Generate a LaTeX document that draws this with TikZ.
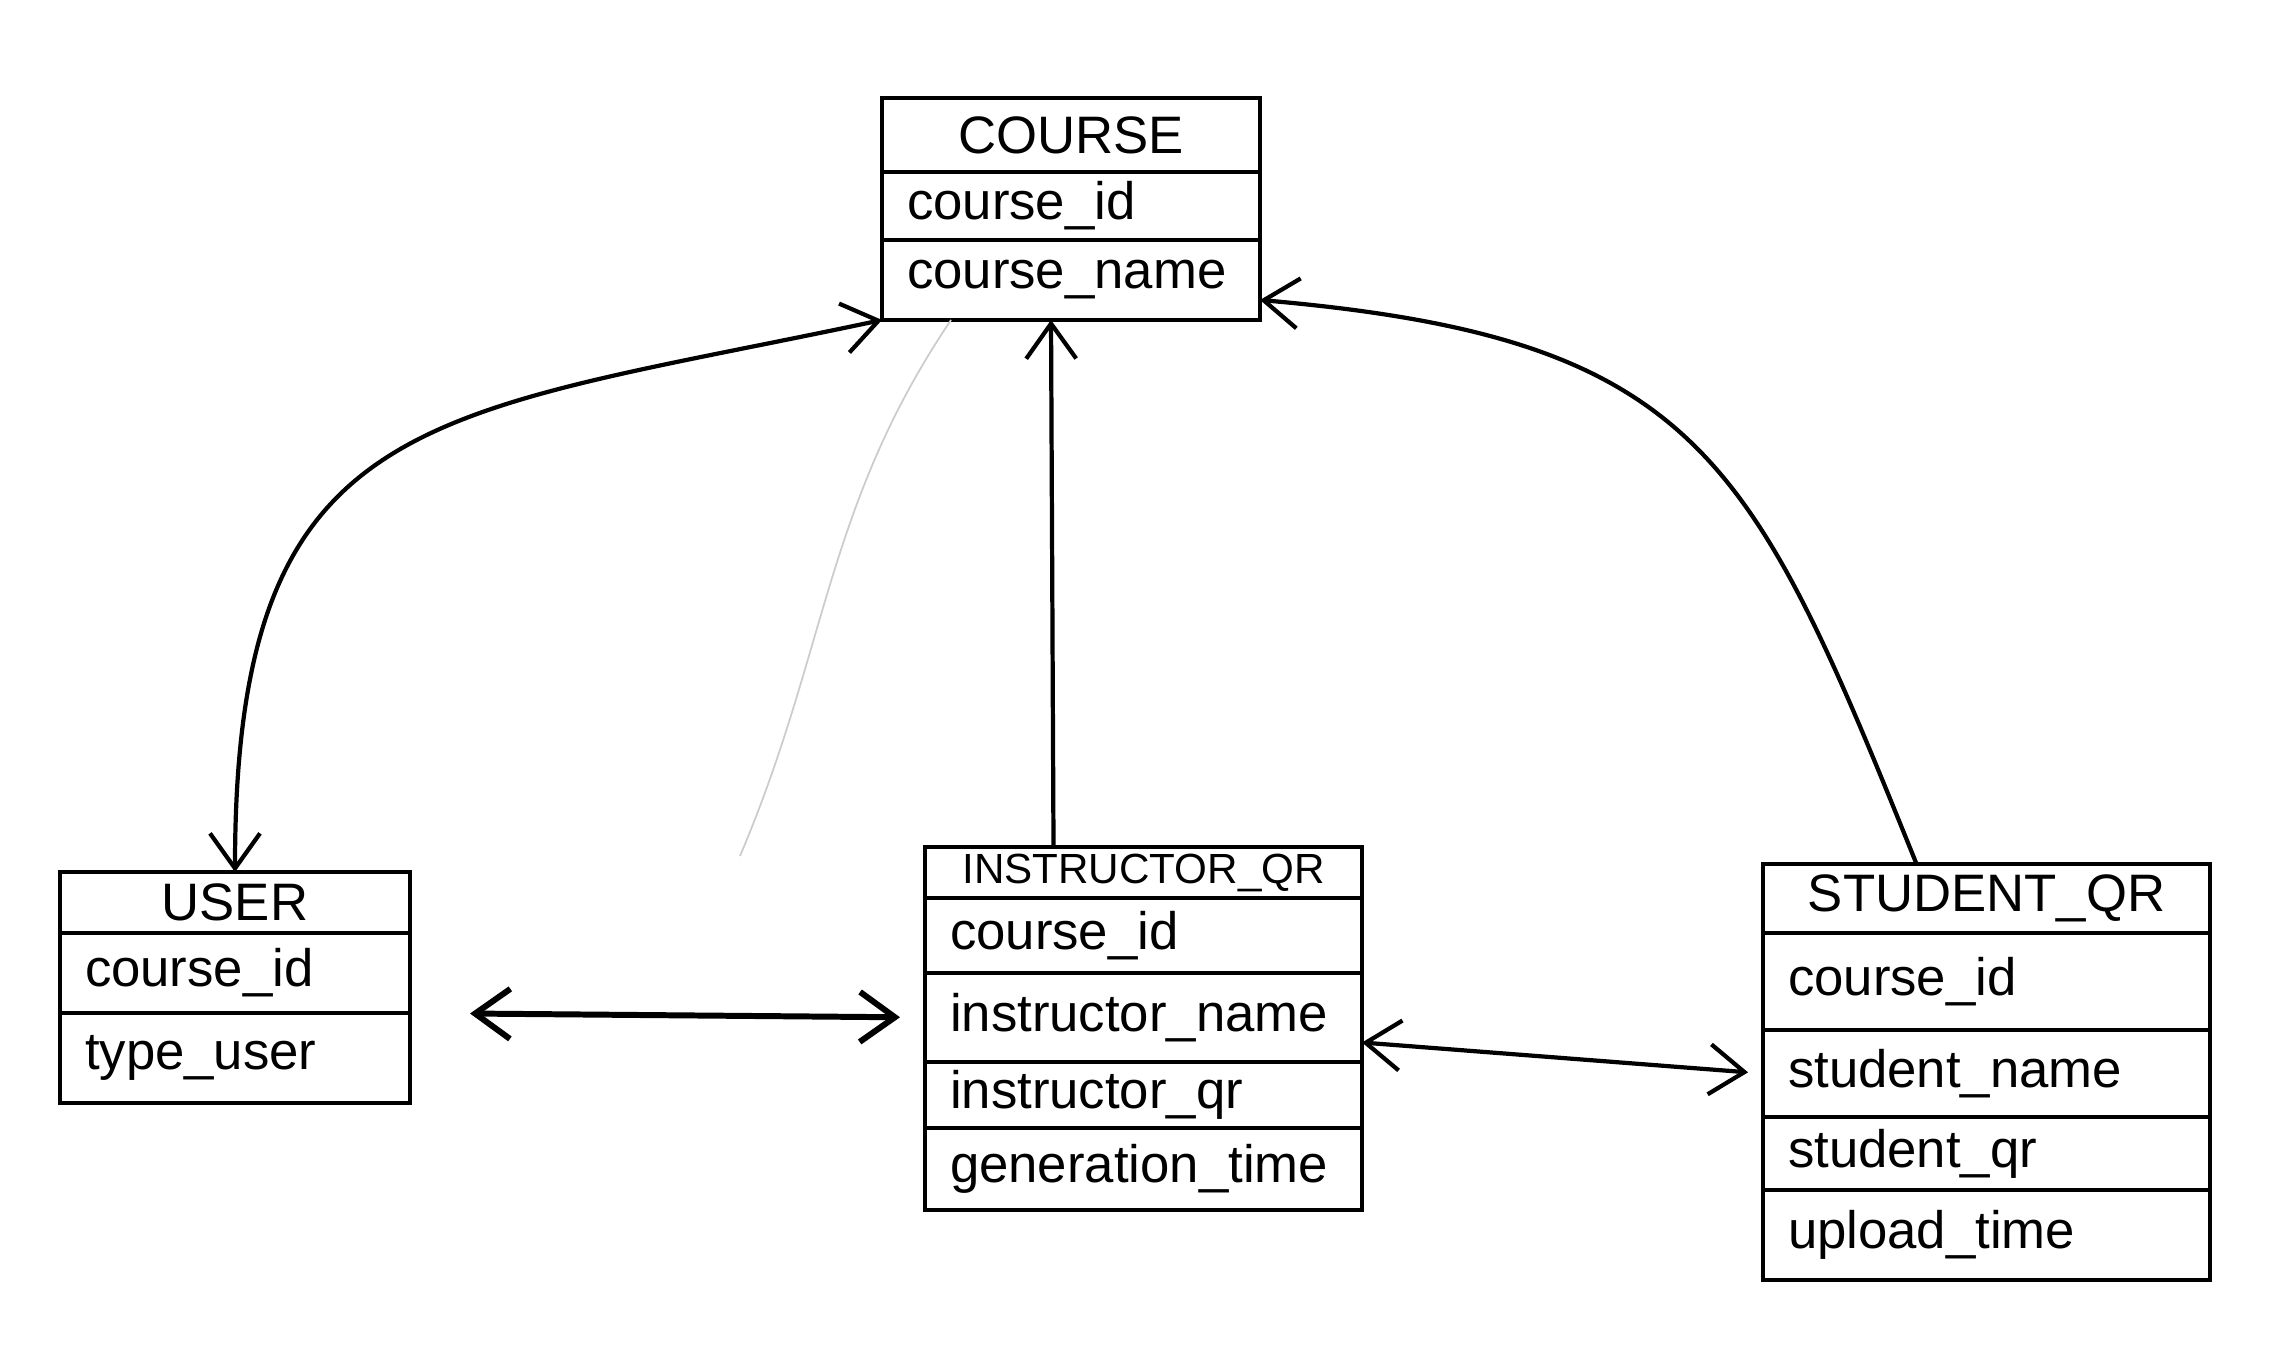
\documentclass[tikz,border=0pt]{standalone}
\usepackage{fontspec}
\setmainfont{Liberation Sans}
\usetikzlibrary{positioning,arrows.meta}

\newcommand{\cellfont}{\fontsize{15}{18}\selectfont}

\begin{document}
\begin{tikzpicture}[
    cell/.style={draw, line width=1.3pt, inner xsep=2.5mm, inner ysep=0pt, outer sep=0pt, font=\cellfont},
    head/.style={cell, align=center, text width=#1},
    field/.style={cell, align=left, text width=#1},
    link/.style={line width=1.2pt, >={Straight Barb[length=3.5mm, width=5mm]}},
]
\useasboundingbox (0, 0) rectangle (22.76, 13.54);

% Course
\node[head=3.28cm, minimum height=7.4mm, anchor=north west] (course) at (8.82, 12.56) {COURSE};
\node[field=3.28cm, minimum height=6.8mm, below=0pt of course] (course-id) {course\_id};
\node[field=3.28cm, minimum height=8mm, below=0pt of course-id] (course-name) {course\_name};

% User
\node[head=3.0cm, minimum height=6.1mm, anchor=north west] (user) at (0.60, 4.82) {USER};
\node[field=3.0cm, minimum height=8mm, below=0pt of user] (user-id) {course\_id};
\node[field=3.0cm, minimum height=9mm, below=0pt of user-id] (user-type) {type\_user};

% Instructor QR
\node[head=3.87cm, minimum height=5.1mm, font=\fontsize{12}{14}\selectfont, anchor=north west] (iqr) at (9.25, 5.07) {INSTRUCTOR\_QR};
\node[field=3.87cm, minimum height=7.5mm, below=0pt of iqr] (iqr-id) {course\_id};
\node[field=3.87cm, minimum height=8.9mm, below=0pt of iqr-id] (iqr-name) {instructor\_name};
\node[field=3.87cm, minimum height=6.6mm, below=0pt of iqr-name] (iqr-qr) {instructor\_qr};
\node[field=3.87cm, minimum height=8.2mm, below=0pt of iqr-qr] (iqr-time) {generation\_time};

% Student QR
\node[head=3.97cm, minimum height=6.9mm, anchor=north west] (sqr) at (17.63, 4.90) {STUDENT\_QR};
\node[field=3.97cm, minimum height=9.7mm, below=0pt of sqr] (sqr-id) {course\_id};
\node[field=3.97cm, minimum height=8.7mm, below=0pt of sqr-id] (sqr-name) {student\_name};
\node[field=3.97cm, minimum height=7.3mm, below=0pt of sqr-name] (sqr-qr) {student\_qr};
\node[field=3.97cm, minimum height=9mm, below=0pt of sqr-qr] (sqr-time) {upload\_time};

% links to course
\draw[link, <->] (user.north) to[out=90, in=192, looseness=1.4] (course-name.south west);
\draw[link, ->] ([xshift=-9mm]iqr.north) -- ([xshift=-2mm]course-name.south);
\draw[link, ->] ([xshift=-7mm]sqr.north) to[out=112, in=-5, looseness=1.3] ([yshift=-2mm]course-name.east);

% links between tables
\draw[link, <->, line width=1.7pt, shorten <=6mm, shorten >=2.5mm] (user-id.south east) -- (iqr-name.west);
\draw[link, <->, shorten >=1.5mm] ([yshift=-2.5mm]iqr-name.east) -- (sqr-name.west);

% faint pencil line
\coordinate (stray) at (7.40, 4.98);
\draw[gray!40, line width=0.5pt] ([xshift=-12mm]course-name.south) to[out=236, in=67] (stray);
\end{tikzpicture}
\end{document}
